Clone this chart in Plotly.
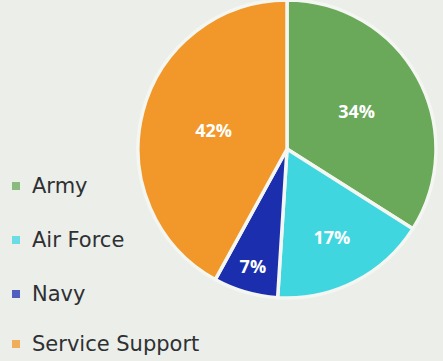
import plotly.graph_objects as go

labels = ["Army", "Air Force", "Navy", "Service Support"]
values = [34, 17, 7, 42]
colors = ["#6aa85a", "#3fd6e0", "#1b2fae", "#f2982a"]

W, H = 443, 361
bg = "#eceee9"

fig = go.Figure()
fig.add_trace(go.Pie(
    labels=labels,
    values=values,
    sort=False,
    direction="clockwise",
    rotation=0,
    marker=dict(colors=colors, line=dict(color="#f4f6f2", width=3.5)),
    textinfo="percent",
    textposition="inside",
    insidetextorientation="horizontal",
    textfont=dict(family="Open Sans", size=18, color="white", weight="bold"),
    domain=dict(x=[134 / W, 440 / W], y=[1 - 298 / H, 1 - 0 / H]),
    showlegend=False,
    hoverinfo="label+percent",
))

# Legend drawn as annotations built from the label/colour arrays
legend_y = [186, 240, 294, 344]
shapes = []
annotations = []
for lab, col, yy in zip(labels, colors, legend_y):
    shapes.append(dict(type="rect", xref="paper", yref="paper",
                       x0=12 / W, x1=20 / W, y0=1 - (yy + 4) / H, y1=1 - (yy - 4) / H,
                       fillcolor=col, line=dict(width=0), opacity=0.75))
    annotations.append(dict(text=lab, xref="paper", yref="paper",
                            x=30 / W, y=1 - yy / H, xanchor="left", yanchor="middle",
                            showarrow=False,
                            font=dict(family="DejaVu Sans", size=21, color="#2e3033")))

fig.update_layout(
    width=W, height=H,
    margin=dict(l=0, r=0, t=0, b=0),
    paper_bgcolor=bg, plot_bgcolor=bg,
    shapes=shapes, annotations=annotations,
)

fig.write_html("out.html")
